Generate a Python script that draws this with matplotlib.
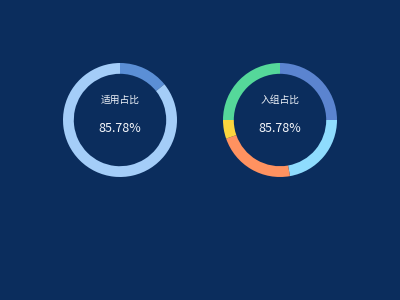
import matplotlib
matplotlib.use("Agg")
import matplotlib.pyplot as plt

plt.rcParams['font.family'] = ['Noto Sans CJK SC', 'DejaVu Sans']

bg = '#0b2d5d'

# left donut: ratio + remainder
left_title = '适用占比'
left_values = [14.22, 85.78]
left_colors = ['#5b8fd6', '#a4cdf8']

# right donut: groups clockwise from top
right_title = '入组占比'
right_values = [25, 22.2, 22.5, 5.3, 25]
right_colors = ['#5b84d0', '#8fdcfd', '#ff9260', '#fcd63e', '#55d89a']

center_text = '85.78%'

fig = plt.figure(figsize=(4, 3), dpi=100, facecolor=bg)

def donut(cx, cy, values, colors, title):
    # axes 120x120 px around center
    ax = fig.add_axes([(cx - 60) / 400, 1 - (cy + 60) / 300, 120 / 400, 120 / 300])
    ax.set_facecolor(bg)
    ax.pie(values, colors=colors, startangle=90, counterclock=False,
           radius=0.95, wedgeprops=dict(width=0.18, edgecolor='none', linewidth=0))
    ax.set_xlim(-1, 1)
    ax.set_ylim(-1, 1)
    ax.set_aspect('equal')
    ax.axis('off')
    ax.text(0, 0.333, title, ha='center', va='center', color='#f0f4fa', fontsize=7)
    ax.text(0, -0.14, center_text, ha='center', va='center', color='#f5f7fb', fontsize=9)

donut(120, 120, left_values, left_colors, left_title)
donut(280, 120, right_values, right_colors, right_title)

fig.savefig('out.png', dpi=100, facecolor=bg)
